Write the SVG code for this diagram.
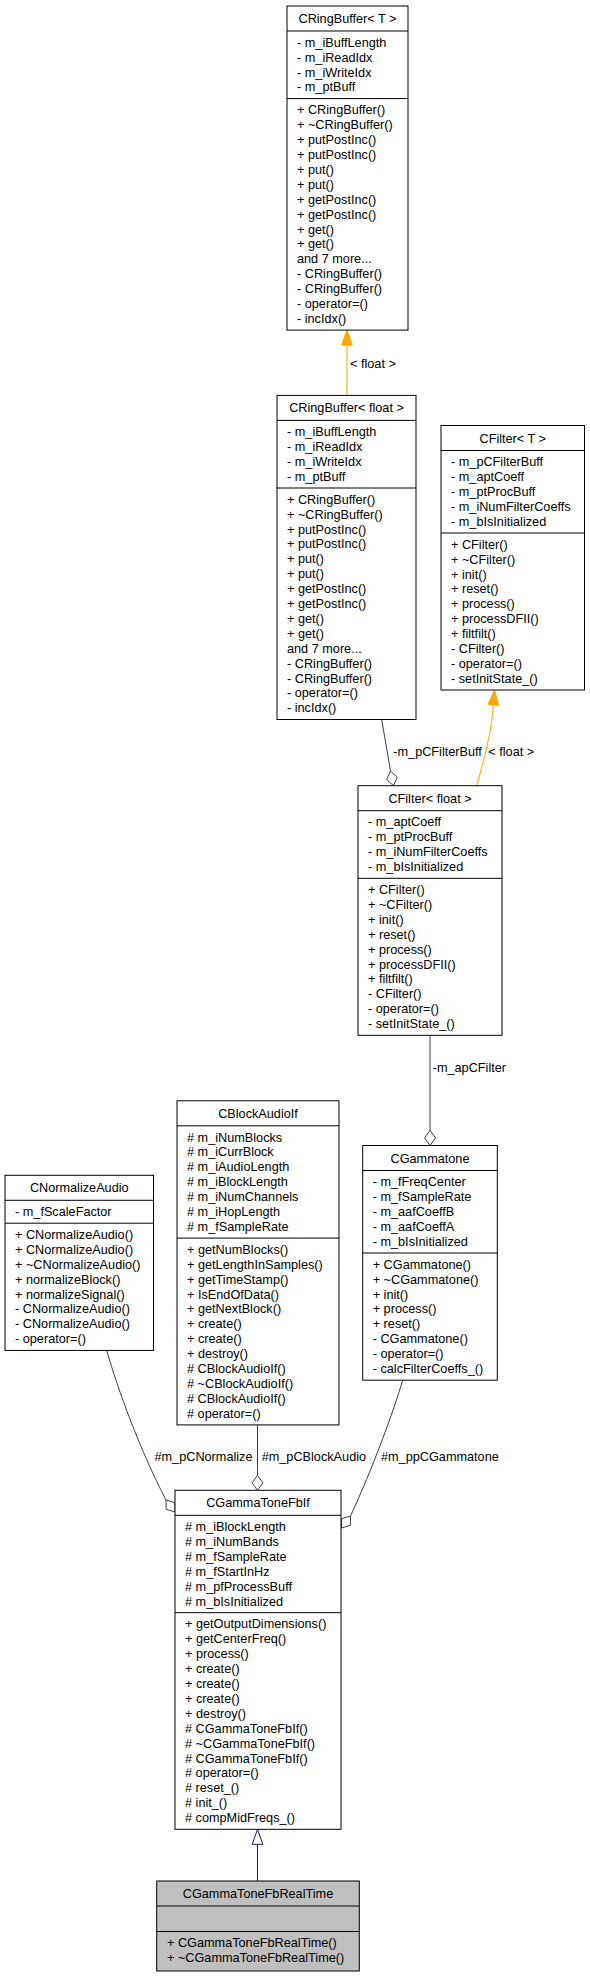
<svg xmlns="http://www.w3.org/2000/svg" width="590" height="1977" viewBox="0 0 590 1977">
<style>
text{font-family:"Liberation Sans",Arial,Helvetica,sans-serif;font-size:12.7px;fill:#000}
.t{text-anchor:middle}
.box{fill:#fff;stroke:#000;stroke-width:1}
.cur{fill:#bfbfbf;stroke:#000;stroke-width:1}
.sep{stroke:#000;stroke-width:1}
.agg{fill:none;stroke:#404040;stroke-width:1}
.dia{fill:#fff;stroke:#404040;stroke-width:1}
.tpl{fill:none;stroke:#ffa500;stroke-width:1}
.tph{fill:#ffa500;stroke:#ffa500;stroke-width:1}
.inh{fill:none;stroke:#191970;stroke-width:1}
.inhh{fill:#fff;stroke:#191970;stroke-width:1}
</style>
<rect x="0" y="0" width="590" height="1977" fill="#fff"/>

<g id="connectors">
  <g id="e_rbfloat_rbT">
    <path class="tpl" d="M347,395.4 L347,345.1"/>
    <polygon class="tph" points="347,330.1 352.3,345.1 341.7,345.1"/>
    <text x="350" y="367.8">&lt; float &gt;</text>
  </g>
  <g id="e_cffloat_cfT">
    <path class="tpl" d="M476.7,785.7 C484,760 492,730 493.3,705"/>
    <polygon class="tph" points="494.5,690 498.6,705.4 488,704.6"/>
    <text x="488.3" y="756">&lt; float &gt;</text>
  </g>
  <g id="e_rbfloat_cffloat">
    <path class="agg" d="M381.7,719.5 L390.5,771"/>
    <polygon class="dia" points="390.5,771 397.4,777.2 393.5,785.7 386.6,779.5"/>
    <text x="393.3" y="756">-m_pCFilterBuff</text>
  </g>
  <g id="e_cffloat_gamma">
    <path class="agg" d="M430,1035.3 L430,1130.3"/>
    <polygon class="dia" points="430,1130.3 435.5,1137.9 430,1145.5 424.5,1137.9"/>
    <text x="432.7" y="1071.8">-m_apCFilter</text>
  </g>
  <g id="e_norm_fbif">
    <path class="agg" d="M106.7,1350.4 C118,1390 140,1450 166,1500"/>
    <polygon class="dia" points="166,1500 174.9,1502.7 175,1512 166.1,1509.3"/>
    <text x="252.5" y="1461" style="text-anchor:end">#m_pCNormalize</text>
  </g>
  <g id="e_block_fbif">
    <path class="agg" d="M257.5,1424.9 L257.5,1475.3"/>
    <polygon class="dia" points="257.5,1475.3 263,1482.8 257.5,1490.3 252,1482.8"/>
    <text x="261.7" y="1461">#m_pCBlockAudio</text>
  </g>
  <g id="e_gamma_fbif">
    <path class="agg" d="M402.7,1380.2 C394,1410 372,1470 350.5,1516"/>
    <polygon class="dia" points="350.5,1516 350.4,1525.3 341.5,1528 341.6,1518.7"/>
    <text x="381" y="1461">#m_ppCGammatone</text>
  </g>
  <g id="e_rt_fbif">
    <path class="inh" d="M257.5,1881 L257.5,1844.3"/>
    <polygon class="inhh" points="257.5,1829.3 262.8,1844.3 252.2,1844.3"/>
  </g>
</g>

<g id="CRingBufferT">
  <rect class="box" x="287" y="6" width="121" height="324.1"/>
  <line class="sep" x1="287" y1="31" x2="408" y2="31"/>
  <line class="sep" x1="287" y1="98.6" x2="408" y2="98.6"/>
  <text class="t" x="347.5" y="23">CRingBuffer&lt; T &gt;</text>
  <text x="297" y="46.7">- m_iBuffLength<tspan x="297" dy="14.9">- m_iReadIdx</tspan><tspan x="297" dy="14.9">- m_iWriteIdx</tspan><tspan x="297" dy="14.9">- m_ptBuff</tspan></text>
  <text x="297" y="114.3">+ CRingBuffer()<tspan x="297" dy="14.9">+ ~CRingBuffer()</tspan><tspan x="297" dy="14.9">+ putPostInc()</tspan><tspan x="297" dy="14.9">+ putPostInc()</tspan><tspan x="297" dy="14.9">+ put()</tspan><tspan x="297" dy="14.9">+ put()</tspan><tspan x="297" dy="14.9">+ getPostInc()</tspan><tspan x="297" dy="14.9">+ getPostInc()</tspan><tspan x="297" dy="14.9">+ get()</tspan><tspan x="297" dy="14.9">+ get()</tspan><tspan x="297" dy="14.9">and 7 more...</tspan><tspan x="297" dy="14.9">- CRingBuffer()</tspan><tspan x="297" dy="14.9">- CRingBuffer()</tspan><tspan x="297" dy="14.9">- operator=()</tspan><tspan x="297" dy="14.9">- incIdx()</tspan></text>
</g>

<g id="CRingBufferFloat">
  <rect class="box" x="277" y="395.4" width="139" height="324.1"/>
  <line class="sep" x1="277" y1="420.4" x2="416" y2="420.4"/>
  <line class="sep" x1="277" y1="488" x2="416" y2="488"/>
  <text class="t" x="346.5" y="412.4">CRingBuffer&lt; float &gt;</text>
  <text x="287" y="436.1">- m_iBuffLength<tspan x="287" dy="14.9">- m_iReadIdx</tspan><tspan x="287" dy="14.9">- m_iWriteIdx</tspan><tspan x="287" dy="14.9">- m_ptBuff</tspan></text>
  <text x="287" y="503.7">+ CRingBuffer()<tspan x="287" dy="14.9">+ ~CRingBuffer()</tspan><tspan x="287" dy="14.9">+ putPostInc()</tspan><tspan x="287" dy="14.9">+ putPostInc()</tspan><tspan x="287" dy="14.9">+ put()</tspan><tspan x="287" dy="14.9">+ put()</tspan><tspan x="287" dy="14.9">+ getPostInc()</tspan><tspan x="287" dy="14.9">+ getPostInc()</tspan><tspan x="287" dy="14.9">+ get()</tspan><tspan x="287" dy="14.9">+ get()</tspan><tspan x="287" dy="14.9">and 7 more...</tspan><tspan x="287" dy="14.9">- CRingBuffer()</tspan><tspan x="287" dy="14.9">- CRingBuffer()</tspan><tspan x="287" dy="14.9">- operator=()</tspan><tspan x="287" dy="14.9">- incIdx()</tspan></text>
</g>

<g id="CFilterT">
  <rect class="box" x="441" y="425.5" width="143.5" height="264.5"/>
  <line class="sep" x1="441" y1="450.5" x2="584.5" y2="450.5"/>
  <line class="sep" x1="441" y1="533" x2="584.5" y2="533"/>
  <text class="t" x="512.75" y="442.5">CFilter&lt; T &gt;</text>
  <text x="451" y="466.2">- m_pCFilterBuff<tspan x="451" dy="14.9">- m_aptCoeff</tspan><tspan x="451" dy="14.9">- m_ptProcBuff</tspan><tspan x="451" dy="14.9">- m_iNumFilterCoeffs</tspan><tspan x="451" dy="14.9">- m_bIsInitialized</tspan></text>
  <text x="451" y="548.7">+ CFilter()<tspan x="451" dy="14.9">+ ~CFilter()</tspan><tspan x="451" dy="14.9">+ init()</tspan><tspan x="451" dy="14.9">+ reset()</tspan><tspan x="451" dy="14.9">+ process()</tspan><tspan x="451" dy="14.9">+ processDFII()</tspan><tspan x="451" dy="14.9">+ filtfilt()</tspan><tspan x="451" dy="14.9">- CFilter()</tspan><tspan x="451" dy="14.9">- operator=()</tspan><tspan x="451" dy="14.9">- setInitState_()</tspan></text>
</g>

<g id="CFilterFloat">
  <rect class="box" x="358" y="785.7" width="144" height="249.6"/>
  <line class="sep" x1="358" y1="810.7" x2="502" y2="810.7"/>
  <line class="sep" x1="358" y1="878.3" x2="502" y2="878.3"/>
  <text class="t" x="430" y="802.7">CFilter&lt; float &gt;</text>
  <text x="368" y="826.4">- m_aptCoeff<tspan x="368" dy="14.9">- m_ptProcBuff</tspan><tspan x="368" dy="14.9">- m_iNumFilterCoeffs</tspan><tspan x="368" dy="14.9">- m_bIsInitialized</tspan></text>
  <text x="368" y="894">+ CFilter()<tspan x="368" dy="14.9">+ ~CFilter()</tspan><tspan x="368" dy="14.9">+ init()</tspan><tspan x="368" dy="14.9">+ reset()</tspan><tspan x="368" dy="14.9">+ process()</tspan><tspan x="368" dy="14.9">+ processDFII()</tspan><tspan x="368" dy="14.9">+ filtfilt()</tspan><tspan x="368" dy="14.9">- CFilter()</tspan><tspan x="368" dy="14.9">- operator=()</tspan><tspan x="368" dy="14.9">- setInitState_()</tspan></text>
</g>

<g id="CBlockAudioIf">
  <rect class="box" x="177" y="1100.8" width="162" height="324.1"/>
  <line class="sep" x1="177" y1="1125.8" x2="339" y2="1125.8"/>
  <line class="sep" x1="177" y1="1238.1" x2="339" y2="1238.1"/>
  <text class="t" x="258" y="1117.8">CBlockAudioIf</text>
  <text x="187" y="1141.5"># m_iNumBlocks<tspan x="187" dy="14.9"># m_iCurrBlock</tspan><tspan x="187" dy="14.9"># m_iAudioLength</tspan><tspan x="187" dy="14.9"># m_iBlockLength</tspan><tspan x="187" dy="14.9"># m_iNumChannels</tspan><tspan x="187" dy="14.9"># m_iHopLength</tspan><tspan x="187" dy="14.9"># m_fSampleRate</tspan></text>
  <text x="187" y="1253.8">+ getNumBlocks()<tspan x="187" dy="14.9">+ getLengthInSamples()</tspan><tspan x="187" dy="14.9">+ getTimeStamp()</tspan><tspan x="187" dy="14.9">+ IsEndOfData()</tspan><tspan x="187" dy="14.9">+ getNextBlock()</tspan><tspan x="187" dy="14.9">+ create()</tspan><tspan x="187" dy="14.9">+ create()</tspan><tspan x="187" dy="14.9">+ destroy()</tspan><tspan x="187" dy="14.9"># CBlockAudioIf()</tspan><tspan x="187" dy="14.9"># ~CBlockAudioIf()</tspan><tspan x="187" dy="14.9"># CBlockAudioIf()</tspan><tspan x="187" dy="14.9"># operator=()</tspan></text>
</g>

<g id="CNormalizeAudio">
  <rect class="box" x="5" y="1175.3" width="148.5" height="175.1"/>
  <line class="sep" x1="5" y1="1200.3" x2="153.5" y2="1200.3"/>
  <line class="sep" x1="5" y1="1223.2" x2="153.5" y2="1223.2"/>
  <text class="t" x="79.25" y="1192.3">CNormalizeAudio</text>
  <text x="15" y="1216">- m_fScaleFactor</text>
  <text x="15" y="1238.9">+ CNormalizeAudio()<tspan x="15" dy="14.9">+ CNormalizeAudio()</tspan><tspan x="15" dy="14.9">+ ~CNormalizeAudio()</tspan><tspan x="15" dy="14.9">+ normalizeBlock()</tspan><tspan x="15" dy="14.9">+ normalizeSignal()</tspan><tspan x="15" dy="14.9">- CNormalizeAudio()</tspan><tspan x="15" dy="14.9">- CNormalizeAudio()</tspan><tspan x="15" dy="14.9">- operator=()</tspan></text>
</g>

<g id="CGammatone">
  <rect class="box" x="362.7" y="1145.5" width="134.6" height="234.7"/>
  <line class="sep" x1="362.7" y1="1170.5" x2="497.3" y2="1170.5"/>
  <line class="sep" x1="362.7" y1="1253" x2="497.3" y2="1253"/>
  <text class="t" x="430" y="1162.5">CGammatone</text>
  <text x="372.7" y="1186.2">- m_fFreqCenter<tspan x="372.7" dy="14.9">- m_fSampleRate</tspan><tspan x="372.7" dy="14.9">- m_aafCoeffB</tspan><tspan x="372.7" dy="14.9">- m_aafCoeffA</tspan><tspan x="372.7" dy="14.9">- m_bIsInitialized</tspan></text>
  <text x="372.7" y="1268.7">+ CGammatone()<tspan x="372.7" dy="14.9">+ ~CGammatone()</tspan><tspan x="372.7" dy="14.9">+ init()</tspan><tspan x="372.7" dy="14.9">+ process()</tspan><tspan x="372.7" dy="14.9">+ reset()</tspan><tspan x="372.7" dy="14.9">- CGammatone()</tspan><tspan x="372.7" dy="14.9">- operator=()</tspan><tspan x="372.7" dy="14.9">- calcFilterCoeffs_()</tspan></text>
</g>

<g id="CGammaToneFbIf">
  <rect class="box" x="175" y="1490.3" width="166" height="339"/>
  <line class="sep" x1="175" y1="1515.3" x2="341" y2="1515.3"/>
  <line class="sep" x1="175" y1="1612.7" x2="341" y2="1612.7"/>
  <text class="t" x="258" y="1507.3">CGammaToneFbIf</text>
  <text x="185" y="1531"># m_iBlockLength<tspan x="185" dy="14.9"># m_iNumBands</tspan><tspan x="185" dy="14.9"># m_fSampleRate</tspan><tspan x="185" dy="14.9"># m_fStartInHz</tspan><tspan x="185" dy="14.9"># m_pfProcessBuff</tspan><tspan x="185" dy="14.9"># m_bIsInitialized</tspan></text>
  <text x="185" y="1628.4">+ getOutputDimensions()<tspan x="185" dy="14.9">+ getCenterFreq()</tspan><tspan x="185" dy="14.9">+ process()</tspan><tspan x="185" dy="14.9">+ create()</tspan><tspan x="185" dy="14.9">+ create()</tspan><tspan x="185" dy="14.9">+ create()</tspan><tspan x="185" dy="14.9">+ destroy()</tspan><tspan x="185" dy="14.9"># CGammaToneFbIf()</tspan><tspan x="185" dy="14.9"># ~CGammaToneFbIf()</tspan><tspan x="185" dy="14.9"># CGammaToneFbIf()</tspan><tspan x="185" dy="14.9"># operator=()</tspan><tspan x="185" dy="14.9"># reset_()</tspan><tspan x="185" dy="14.9"># init_()</tspan><tspan x="185" dy="14.9"># compMidFreqs_()</tspan></text>
</g>

<g id="CGammaToneFbRealTime">
  <rect class="cur" x="156.7" y="1881" width="202.6" height="90"/>
  <line class="sep" x1="156.7" y1="1906" x2="359.3" y2="1906"/>
  <line class="sep" x1="156.7" y1="1931.5" x2="359.3" y2="1931.5"/>
  <text class="t" x="258" y="1898">CGammaToneFbRealTime</text>
  <text x="167" y="1947.2">+ CGammaToneFbRealTime()<tspan x="167" dy="14.6">+ ~CGammaToneFbRealTime()</tspan></text>
</g>
</svg>
